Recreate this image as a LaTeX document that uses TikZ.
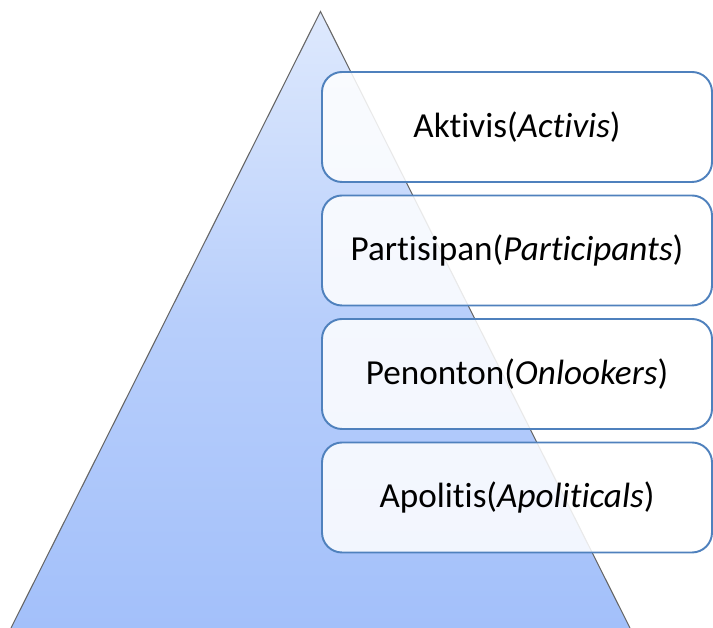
\documentclass[tikz,border=0pt]{standalone}
\usepackage{fontspec}
\setmainfont[Ligatures={NoCommon}]{Carlito}
\usepackage{tikz}
\usetikzlibrary{shapes.misc}

\definecolor{pyrtop}{RGB}{222,233,253}
\definecolor{pyrbot}{RGB}{163,192,250}
\definecolor{lvlline}{RGB}{79,129,189}

\tikzset{
    pyramid/.style={top color=pyrtop, bottom color=pyrbot, middle color=pyrtop!35!pyrbot},
    layer/.style={draw=lvlline, line width=1.1pt, rounded corners=0.4cm, fill=white, fill opacity=0.86, text opacity=1, minimum width=7.8cm, minimum height=2.2cm, font=\fontsize{20}{24}\selectfont}
}

\begin{document}
\begin{tikzpicture}
            \useasboundingbox (0,0) rectangle (14.26,12.56);
            
            % the pyramid behind the levels
            \coordinate (apex) at (6.41,12.33);
            \coordinate (baseL) at (0.22,0);
            \coordinate (baseR) at (12.6,0);
            \shade[pyramid] (apex)--(baseR)--(baseL)--cycle;
            \draw[gray!80!black, line width=0.6pt] (baseL)--(apex)--(baseR);
            
            \node[layer] (lvl1) at (10.34, 10.02) {Aktivis(\textit{Activis})};
            \node[layer] (lvl2) at (10.34, 7.55)  {Partisipan(\textit{Participants})};
            \node[layer] (lvl3) at (10.34, 5.08)  {Penonton(\textit{Onlookers})};
            \node[layer] (lvl4) at (10.34, 2.61)  {Apolitis(\textit{Apoliticals})};
            \end{tikzpicture}
\end{document}
